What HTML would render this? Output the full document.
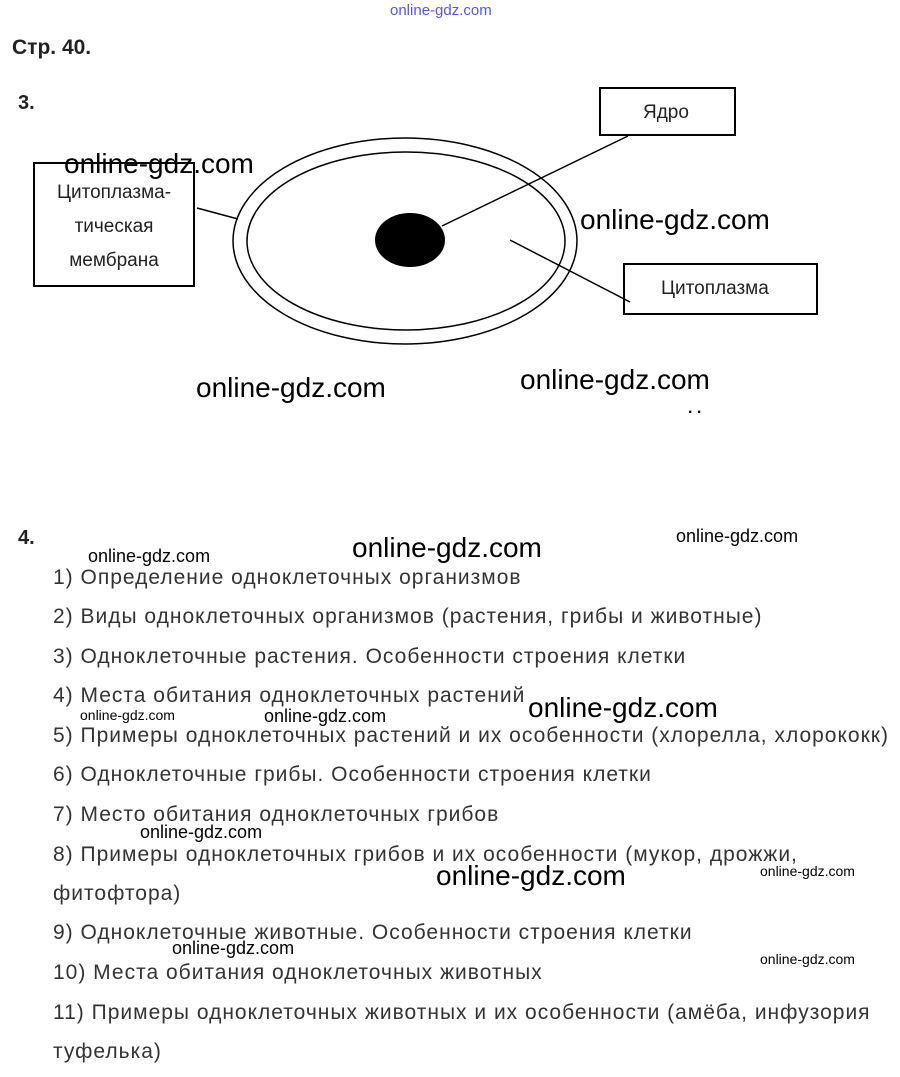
<!DOCTYPE html>
<html><head><meta charset="utf-8"><style>
body{margin:0;width:900px;height:1077px;background:#fff;position:relative;overflow:hidden;font-family:"Liberation Sans",sans-serif}
.a{position:absolute;white-space:nowrap}
.w{position:absolute;white-space:nowrap;color:#000;font-family:"Liberation Sans",sans-serif}
.li{position:absolute;left:53px;font-size:21px;color:#333;white-space:nowrap;letter-spacing:1px}
</style></head><body>
<div class="a" style="left:390px;top:2px;font-size:15px;color:#5555ee">online-gdz.com</div>
<div class="a" style="left:12px;top:36px;font-size:21px;font-weight:bold;color:#222">Стр. 40.</div>
<div class="a" style="left:18px;top:92px;font-size:20px;font-weight:bold;color:#222">3.</div>
<svg style="position:absolute;left:0;top:0" width="900" height="420">
<ellipse cx="405" cy="241" rx="172" ry="103" fill="none" stroke="#000" stroke-width="1.5"/>
<ellipse cx="406" cy="241" rx="159" ry="89" fill="none" stroke="#000" stroke-width="1.5"/>
<ellipse cx="410" cy="240" rx="35" ry="27" fill="#000"/>
<rect x="600" y="88" width="135" height="47" fill="#fff" stroke="#000" stroke-width="2"/>
<rect x="624" y="264" width="193" height="50" fill="#fff" stroke="#000" stroke-width="2"/>
<rect x="34" y="163" width="160" height="123" fill="#fff" stroke="#000" stroke-width="2"/>
<line x1="197" y1="208" x2="238" y2="219" stroke="#000" stroke-width="1.5"/>
<line x1="628" y1="136" x2="442" y2="226" stroke="#000" stroke-width="1.5"/>
<line x1="510" y1="240" x2="630" y2="302" stroke="#000" stroke-width="1.5"/>
</svg>
<div class="a" style="left:643px;top:102px;font-size:19px;color:#222">Ядро</div>
<div class="a" style="left:661px;top:278px;font-size:19px;color:#222">Цитоплазма</div>
<div class="a" style="left:34px;top:176px;width:160px;text-align:center;font-size:19px;color:#222;line-height:34px">Цитоплазма-<br>тическая<br>мембрана</div>
<div class="a" style="left:688px;top:400px;font-size:16px;font-weight:bold">. .</div>
<div class="a" style="left:18px;top:527px;font-size:20px;font-weight:bold;color:#222">4.</div>
<div class="li" style="top:566px">1) Определение одноклеточных организмов</div>
<div class="li" style="top:605px">2) Виды одноклеточных организмов (растения, грибы и животные)</div>
<div class="li" style="top:645px">3) Одноклеточные растения. Особенности строения клетки</div>
<div class="li" style="top:684px">4) Места обитания одноклеточных растений</div>
<div class="li" style="top:724px">5) Примеры одноклеточных растений и их особенности (хлорелла, хлорококк)</div>
<div class="li" style="top:763px">6) Одноклеточные грибы. Особенности строения клетки</div>
<div class="li" style="top:803px">7) Место обитания одноклеточных грибов</div>
<div class="li" style="top:843px">8) Примеры одноклеточных грибов и их особенности (мукор, дрожжи,</div>
<div class="li" style="top:882px">фитофтора)</div>
<div class="li" style="top:921px">9) Одноклеточные животные. Особенности строения клетки</div>
<div class="li" style="top:961px">10) Места обитания одноклеточных животных</div>
<div class="li" style="top:1001px">11) Примеры одноклеточных животных и их особенности (амёба, инфузория</div>
<div class="li" style="top:1040px">туфелька)</div>
<div class="w" style="left:64px;top:148px;font-size:28px">online-gdz.com</div>
<div class="w" style="left:580px;top:204px;font-size:28px">online-gdz.com</div>
<div class="w" style="left:196px;top:372px;font-size:28px">online-gdz.com</div>
<div class="w" style="left:520px;top:364px;font-size:28px">online-gdz.com</div>
<div class="w" style="left:352px;top:532px;font-size:28px">online-gdz.com</div>
<div class="w" style="left:528px;top:692px;font-size:28px">online-gdz.com</div>
<div class="w" style="left:436px;top:860px;font-size:28px">online-gdz.com</div>
<div class="w" style="left:88px;top:546px;font-size:18px">online-gdz.com</div>
<div class="w" style="left:676px;top:526px;font-size:18px">online-gdz.com</div>
<div class="w" style="left:80px;top:707px;font-size:14px">online-gdz.com</div>
<div class="w" style="left:264px;top:706px;font-size:18px">online-gdz.com</div>
<div class="w" style="left:140px;top:822px;font-size:18px">online-gdz.com</div>
<div class="w" style="left:760px;top:863px;font-size:14px">online-gdz.com</div>
<div class="w" style="left:172px;top:938px;font-size:18px">online-gdz.com</div>
<div class="w" style="left:760px;top:951px;font-size:14px">online-gdz.com</div>
</body></html>
